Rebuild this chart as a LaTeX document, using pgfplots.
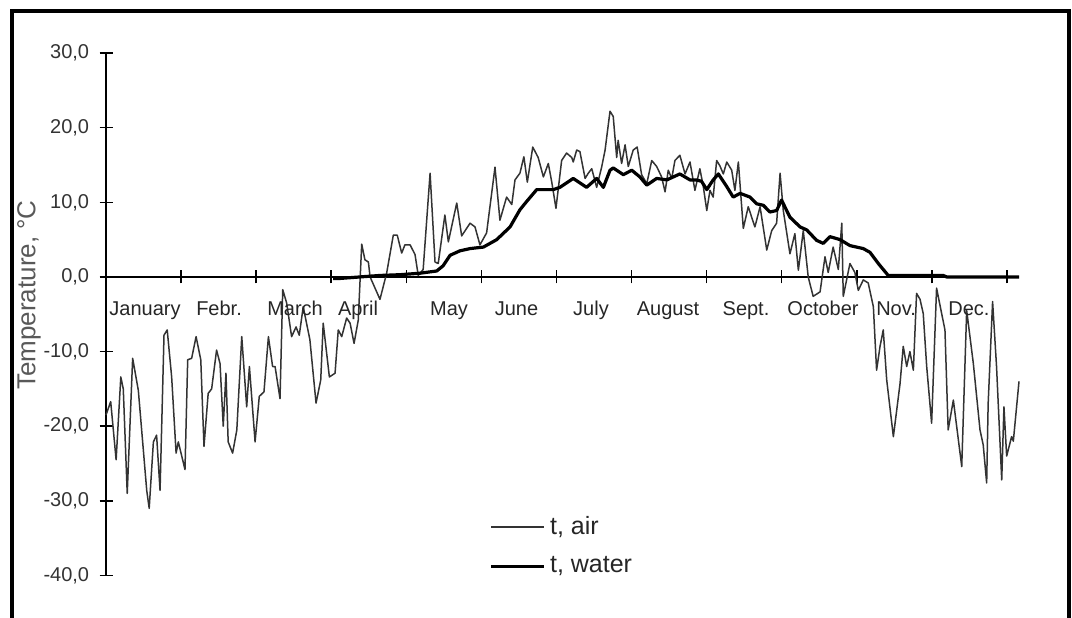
\documentclass[border=0pt]{standalone}
\usepackage{fontspec}
\setmainfont{Liberation Sans}
\usepackage{pgfplots}
\pgfplotsset{compat=1.18}
\begin{document}
\begin{tikzpicture}
\begin{axis}[
  scale only axis, width=456.5pt, height=261.25pt,
  at={(53pt,20.75pt)}, anchor=south west,
  xmin=0, xmax=369.9, ymin=-40, ymax=30,
  axis x line*=middle, axis y line*=left,
  hide obscured x ticks=false, hide obscured y ticks=false,
  axis line style={line width=0.75pt, black},
  tick align=center, major tick length=6.5pt,
  every tick/.style={black, line width=0.75pt},
  xtick={0,30.42,60.83,91.25,121.67,152.08,182.5,212.92,243.33,273.75,304.17,334.58,365},
  xticklabels={},
  ytick={-40,-30,-20,-10,0,10,20,30},
  yticklabels={{-40,0},{-30,0},{-20,0},{-10,0},{0,0},{10,0},{20,0},{30,0}},
  yticklabel style={font=\fontsize{10}{12}\selectfont, text=black!80, inner sep=0pt, xshift=-5pt},
  clip=false,
  legend style={draw=none, fill=none, inner sep=0pt, at={(0.4200,0.0560)}, anchor=west,
    font=\fontsize{12.5}{15}\selectfont, text=black!85, row sep=5.5pt},
  legend cell align=left,
  legend image code/.code={\draw[#1] (0pt,0pt) -- (26.5pt,0pt);},
]
\addplot[black!80, line width=0.75pt, line join=round] coordinates {
(0,-18.5)(1.9,-16.7)(4.1,-24.5)(6.0,-13.4)(7.0,-15.0)(8.6,-29.0)(10.8,-10.9)(13.1,-15.2)(16.5,-28.6)(17.5,-31.0)(19.2,-22.1)(20.5,-21.2)(21.9,-28.6)(23.5,-7.8)(24.8,-7.1)(26.6,-13.4)(28.4,-23.6)(29.3,-22.1)(32.0,-25.8)(33.1,-11.1)(34.7,-10.9)(36.5,-8.0)(38.4,-11.1)(39.7,-22.7)(41.4,-15.6)(42.8,-15.0)(44.8,-9.8)(46.2,-11.6)(47.5,-20.0)(48.6,-12.9)(49.5,-22.1)(51.3,-23.6)(53.0,-20.5)(55.0,-8.0)(57.0,-17.4)(58.1,-12.0)(60.4,-22.1)(62.1,-16.0)(64.0,-15.4)(65.8,-8.0)(67.5,-12.0)(68.5,-12.0)(70.5,-16.3)(71.6,-1.7)(73.2,-3.5)(75.2,-8.0)(77.0,-6.7)(78.3,-7.8)(79.9,-4.0)(82.6,-8.4)(85.1,-16.9)(87.0,-13.8)(88.0,-6.2)(90.5,-13.4)(92.8,-12.9)(94.1,-7.1)(95.5,-8.0)(97.5,-5.5)(98.9,-6.2)(100.5,-8.9)(102.2,-5.8)(103.6,4.4)(104.9,2.3)(106.3,2.0)(107.0,0)(111.0,-3.0)(113.7,0.5)(116.4,5.6)(118.0,5.6)(119.8,3.2)(121.1,4.3)(123.2,4.3)(125.2,3.0)(126.5,0.2)(128.5,1.0)(131.3,13.9)(133.3,2.0)(134.6,1.8)(137.3,8.3)(138.7,4.7)(142.1,9.9)(144.1,5.5)(147.5,7.2)(149.5,6.7)(151.5,4.3)(154.2,5.9)(157.6,14.7)(159.6,7.6)(162.3,10.7)(164.4,9.7)(165.7,13.0)(167.7,13.9)(169.3,16.1)(170.7,12.7)(172.9,17.4)(175.1,16.0)(177.2,13.4)(179.2,15.2)(180.6,12.7)(182.3,9.2)(184.6,15.6)(186.6,16.6)(188.7,16.0)(189.3,15.4)(190.7,17.0)(192.0,16.8)(194.1,13.2)(195.4,13.9)(196.8,14.5)(198.8,12.0)(200.8,14.7)(202.2,17.0)(204.2,22.2)(205.5,21.5)(206.9,16.0)(207.5,18.3)(208.9,15.2)(210.3,17.7)(211.6,14.8)(213.6,17.0)(215.2,17.4)(217.0,13.7)(219.1,12.5)(221.1,15.6)(223.1,14.8)(225.1,13.4)(226.5,11.4)(227.8,14.3)(229.2,13.2)(230.5,15.6)(232.5,16.3)(234.6,13.8)(236.6,15.4)(238.6,11.6)(240.6,14.5)(242.0,12.1)(243.4,8.9)(244.7,11.6)(246.0,10.7)(247.4,15.6)(248.7,14.9)(250.1,13.8)(251.5,15.4)(253.5,14.3)(254.8,11.6)(256.2,15.4)(258.2,6.5)(260.2,9.4)(262.9,6.7)(265.0,9.4)(267.7,3.6)(269.7,6.2)(271.7,7.2)(273.1,13.9)(274.4,8.9)(277.1,3.1)(279.1,5.8)(280.5,0.9)(282.5,6.2)(284.5,0.0)(286.5,-2.6)(289.3,-2.0)(291.3,2.7)(292.6,0.6)(294.6,4.0)(296.7,1.0)(298.1,7.2)(298.7,-2.6)(301.4,1.8)(303.4,0.6)(304.8,-1.8)(306.8,-0.4)(308.8,-0.8)(310.9,-4.0)(312.2,-12.5)(313.6,-9.3)(314.9,-7.1)(316.3,-13.8)(319.0,-21.4)(321.7,-14.3)(323.0,-9.3)(324.4,-12.0)(325.7,-10.0)(327.1,-12.5)(328.4,-2.2)(329.8,-3.0)(331.1,-4.9)(332.5,-12.0)(334.5,-19.6)(336.5,-1.5)(339.9,-7.1)(341.2,-20.5)(343.3,-16.5)(346.7,-25.4)(348.7,-4.5)(351.4,-11.6)(354.1,-20.5)(355.4,-22.5)(356.8,-27.6)(357.4,-17.0)(359.2,-3.3)(360.8,-12.0)(362.9,-27.2)(363.8,-17.4)(364.9,-24.0)(366.9,-21.4)(367.6,-22.0)(369.9,-14.0)
};
\addlegendentry{t, air}
\addplot[black, line width=1.6pt, line join=round] coordinates {
(92.0,-0.2)(94.8,-0.2)(102.9,0.0)(111.0,0.2)(119.1,0.3)(127.2,0.5)(134.0,0.8)(136.6,1.5)(139.4,2.9)(143.4,3.5)(147.5,3.8)(152.9,4.0)(158.3,5.0)(163.7,6.7)(167.7,9.0)(170.4,10.1)(174.5,11.7)(181.2,11.7)(183.9,12.0)(189.3,13.2)(194.7,12.0)(198.8,13.2)(201.5,12.0)(204.2,14.3)(205.5,14.6)(209.6,13.7)(213.0,14.3)(216.3,13.4)(219.1,12.3)(223.1,13.2)(227.2,13.0)(232.5,13.8)(236.6,13.0)(239.3,13.0)(241.3,12.8)(243.4,11.7)(246.0,13.0)(248.1,13.8)(251.5,12.1)(254.1,10.7)(256.9,11.2)(260.9,10.7)(263.6,9.8)(266.3,9.6)(269.0,8.7)(271.7,8.9)(273.7,10.3)(277.1,8.0)(281.2,6.7)(283.9,6.3)(287.9,4.9)(290.6,4.5)(293.3,5.4)(297.4,5.0)(301.4,4.2)(306.8,3.8)(309.5,3.3)(312.9,1.8)(316.9,0.2)(339.2,0.2)(340.6,0.0)(369.9,0.0)
};
\addlegendentry{t, water}
\begin{scope}[every node/.style={anchor=base, font=\fontsize{10}{12}\selectfont, text=black!85, inner sep=0pt}]
\node at (axis cs:15.8,-5.1) {January};
\node at (axis cs:45.8,-5.1) {Febr.};
\node at (axis cs:76.6,-5.1) {March};
\node at (axis cs:102.1,-5.1) {April};
\node at (axis cs:139.0,-5.1) {May};
\node at (axis cs:166.3,-5.1) {June};
\node at (axis cs:196.5,-5.1) {July};
\node at (axis cs:227.7,-5.1) {August};
\node at (axis cs:259.3,-5.1) {Sept.};
\node at (axis cs:290.5,-5.1) {October};
\node at (axis cs:320.1,-5.1) {Nov.};
\node at (axis cs:349.6,-5.1) {Dec.};
\end{scope}
\end{axis}
\node[rotate=90, font=\fontsize{13}{15}\selectfont, text=black!65] at (14.5pt,161pt) {Temperature, °C};
\draw[line width=2pt, black] (6.15pt,-2pt) -- (6.15pt,302.8pt) -- (534.5pt,302.8pt) -- (534.5pt,-2pt);
\pgfresetboundingbox
\path[use as bounding box] (0,0) rectangle (536pt,308.5pt);
\end{tikzpicture}
\end{document}
